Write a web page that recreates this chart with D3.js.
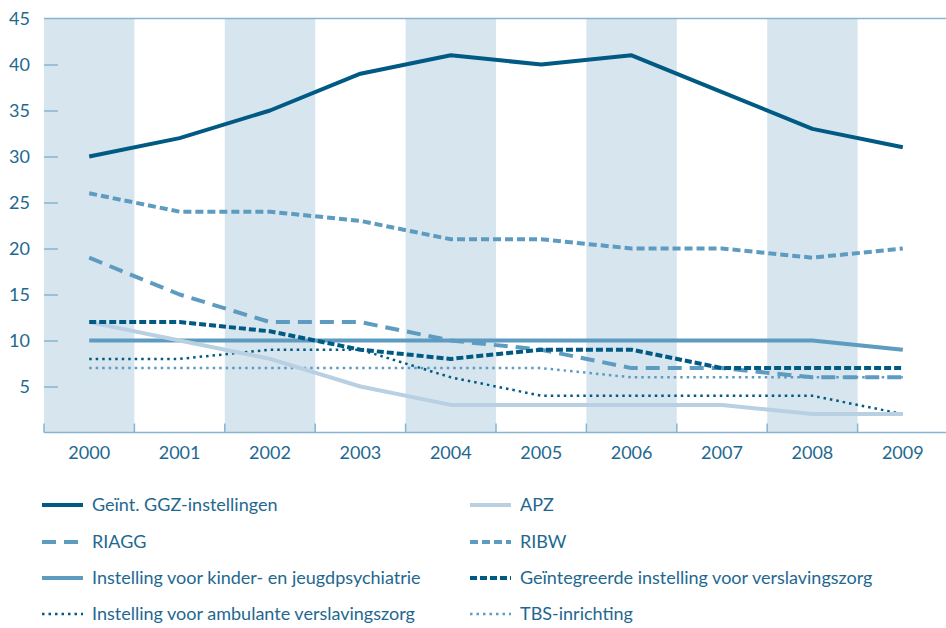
<!DOCTYPE html>
<html><head><meta charset="utf-8">
<script src="https://cdn.jsdelivr.net/npm/d3@7"></script>
<style>
html,body{margin:0;padding:0;background:#fff;}
svg{display:block;font-family:Lato,"Open Sans",sans-serif;}
</style></head><body>
<svg id="chart" width="946" height="628"></svg>
<script>
const years = ["2000","2001","2002","2003","2004","2005","2006","2007","2008","2009"];
const yTicks = [5,10,15,20,25,30,35,40,45];

const ggz        = [30,32,35,39,41,40,41,37,33,31];
const apz        = [12,10,8,5,3,3,3,3,2,2];
const riagg      = [19,15,12,12,10,9,7,7,6,6];
const ribw       = [26,24,24,23,21,21,20,20,19,20];
const kinder     = [10,10,10,10,10,10,10,10,10,9];
const geintVers  = [12,12,11,9,8,9,9,7,7,7];
const ambulant   = [8,8,9,9,6,4,4,4,4,2];
const tbs        = [7,7,7,7,7,7,6,6,6,6];

const seriesNames = [
  "Geïnt. GGZ-instellingen","APZ","RIAGG","RIBW",
  "Instelling voor kinder- en jeugdpsychiatrie","Geïntegreerde instelling voor verslavingszorg",
  "Instelling voor ambulante verslavingszorg","TBS-inrichting"
];

const dark = "#005a84", mid = "#5e9bc1", light = "#b8d0e1";
const styles = {
  "Geïnt. GGZ-instellingen": {data: ggz, color: dark, w: 4, dash: null},
  "APZ": {data: apz, color: light, w: 4, dash: null},
  "RIAGG": {data: riagg, color: mid, w: 4, dash: "14,8"},
  "RIBW": {data: ribw, color: mid, w: 4, dash: "8,4"},
  "Instelling voor kinder- en jeugdpsychiatrie": {data: kinder, color: mid, w: 4, dash: null},
  "Geïntegreerde instelling voor verslavingszorg": {data: geintVers, color: dark, w: 4, dash: "7,3"},
  "Instelling voor ambulante verslavingszorg": {data: ambulant, color: dark, w: 2.5, dash: "2.5,4"},
  "TBS-inrichting": {data: tbs, color: mid, w: 2.5, dash: "2.5,4"}
};
const drawOrder = ["TBS-inrichting","Instelling voor ambulante verslavingszorg",
  "Instelling voor kinder- en jeugdpsychiatrie","APZ","RIAGG","RIBW",
  "Geïntegreerde instelling voor verslavingszorg","Geïnt. GGZ-instellingen"];

const svg = d3.select("#chart");
const textColor = "#1e6890", axisColor = "#86b4d1", bandColor = "#d7e5ef";
const fs = 18;

const x = d3.scaleBand().domain(years).range([44, 948]).padding(0);
const y = d3.scaleLinear().domain([0,45]).range([432.5, 18.5]);
const cx = d => x(d) + x.bandwidth()/2;

// bands
svg.append("g").selectAll("rect").data(years.filter((d,i)=>i%2===0)).join("rect")
  .attr("x", d=>x(d)).attr("y", y(45)).attr("width", x.bandwidth()).attr("height", y(0)-y(45))
  .attr("fill", bandColor);

// top line
svg.append("line").attr("x1",44).attr("x2",946).attr("y1",y(45)).attr("y2",y(45))
  .attr("stroke",axisColor).attr("stroke-width",1.5);

// y axis ticks
const yAxis = svg.append("g").attr("transform","translate(44,0)")
  .call(d3.axisRight(y).tickValues(yTicks.filter(t=>t<45)).tickSize(14).tickFormat(""));
yAxis.select(".domain").remove();
yAxis.selectAll("line").attr("stroke",axisColor).attr("stroke-width",1.5);
svg.append("g").selectAll("text").data(yTicks).join("text")
  .attr("x",30).attr("y",d=>y(d)).attr("dy","0.35em").attr("text-anchor","end")
  .attr("fill",textColor).attr("font-size",fs).text(d=>d);

// x axis
svg.append("line").attr("x1",44).attr("x2",946).attr("y1",y(0)).attr("y2",y(0))
  .attr("stroke",axisColor).attr("stroke-width",1.5);
svg.append("g").selectAll("line").data(years).join("line")
  .attr("x1",d=>x(d)).attr("x2",d=>x(d)).attr("y1",y(0)-9).attr("y2",y(0))
  .attr("stroke",axisColor).attr("stroke-width",1.5);
svg.append("g").selectAll("text").data(years).join("text")
  .attr("x",d=>cx(d)).attr("y",453).attr("dy","0.35em").attr("text-anchor","middle")
  .attr("fill",textColor).attr("font-size",fs).text(d=>d);

// lines
const line = d3.line().x((d,i)=>cx(years[i])).y(d=>y(d));
drawOrder.forEach(name=>{
  const s = styles[name];
  svg.append("path").attr("d", line(s.data)).attr("fill","none")
    .attr("stroke",s.color).attr("stroke-width",s.w)
    .attr("stroke-dasharray", s.dash).attr("stroke-linejoin","round");
});

// legend
const legX = [42, 470], legY = [505, 542, 578, 614];
seriesNames.forEach((name,i)=>{
  const s = styles[name];
  const lx = legX[i%2], ly = legY[Math.floor(i/2)];
  svg.append("line").attr("x1",lx).attr("x2",lx+41).attr("y1",ly).attr("y2",ly)
    .attr("stroke",s.color).attr("stroke-width",s.w).attr("stroke-dasharray",s.dash);
  svg.append("text").attr("x",lx+50).attr("y",ly).attr("dy","0.35em")
    .attr("fill",textColor).attr("font-size",fs).text(name);
});
</script></body></html>
